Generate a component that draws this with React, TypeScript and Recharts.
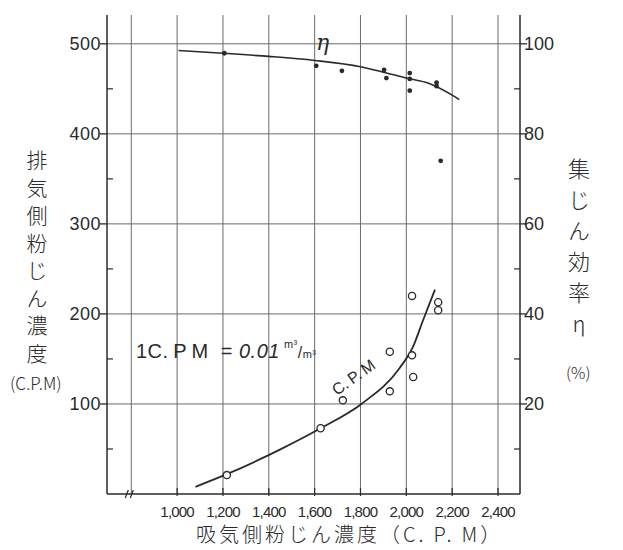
import { ComposedChart, Line, Scatter, XAxis, YAxis, ReferenceLine } from 'recharts';

// 吸気側粉じん濃度 (C.P.M) — x values
const xTicks = [800, 1000, 1200, 1400, 1600, 1800, 2000, 2200, 2400];
const leftTicks = [50, 100, 150, 200, 250, 300, 350, 400, 450, 500];
const rightTicks = [10, 20, 30, 40, 50, 60, 70, 80, 90, 100];
const hGrid = [100, 200, 300, 400, 500];

// 集じん効率 η (%) measured points
const etaX = [1206, 1607, 1719, 1903, 1913, 2015, 2015, 2015, 2132, 2132, 2150];
const etaY = [97.9, 95.1, 94.0, 94.2, 92.4, 93.5, 92.2, 89.6, 91.4, 90.6, 74.0];

// η fitted curve
const etaCurveX = [1006, 1200, 1400, 1600, 1800, 1900, 2000, 2100, 2200, 2231];
const etaCurveY = [98.5, 97.9, 97.2, 96.3, 94.9, 93.7, 92.4, 91.2, 88.6, 87.6];

// 排気側粉じん濃度 (C.P.M) measured points
const cpmX = [1217, 1626, 1723, 1928, 1928, 2025, 2025, 2030, 2139, 2139];
const cpmY = [21, 73, 104, 158, 114, 220, 154, 130, 213, 204];

// C.P.M fitted curve
const cpmCurveX = [1080, 1217, 1446, 1626, 1804, 1971, 2030, 2073, 2125];
const cpmCurveY = [8, 22, 49, 73, 100, 140, 164, 193, 227];

const zip = (xs: number[], ys: number[]) => xs.map((x, i) => ({ x, y: ys[i] }));

const etaPts = zip(etaX, etaY);
const etaCurve = zip(etaCurveX, etaCurveY);
const cpmPts = zip(cpmX, cpmY);
const cpmCurve = zip(cpmCurveX, cpmCurveY);

const ink = '#2a2a2a';
const numFont = '"Liberation Sans", Arial, sans-serif';
const jpFont = '"Noto Sans CJK JP", sans-serif';

const LeftTick = (props: any) => {
  const { x, y, payload } = props;
  const major = payload.value % 100 === 0;
  return (
    <g>
      {major ? (
        <line x1={x - 7} x2={x} y1={y} y2={y} stroke={ink} strokeWidth={1.3} />
      ) : (
        <line x1={x} x2={x + 6} y1={y} y2={y} stroke={ink} strokeWidth={1.2} />
      )}
      {major && (
        <text x={x - 6} y={y + 6.5} textAnchor="end" fontSize={18} fill={ink} fontFamily={numFont} letterSpacing={0.5}>
          {payload.value}
        </text>
      )}
    </g>
  );
};

const RightTick = (props: any) => {
  const { x, y, payload } = props;
  const major = payload.value % 20 === 0;
  return (
    <g>
      {major ? (
        <line x1={x} x2={x + 7} y1={y} y2={y} stroke={ink} strokeWidth={1.3} />
      ) : (
        <line x1={x - 6} x2={x} y1={y} y2={y} stroke={ink} strokeWidth={1.2} />
      )}
      {major && (
        <text x={x + 4} y={y + 6.5} textAnchor="start" fontSize={18} fill={ink} fontFamily={numFont}>
          {payload.value}
        </text>
      )}
    </g>
  );
};

const BottomTick = (props: any) => {
  const { x, y, payload } = props;
  const v = payload.value;
  if (v === 800) {
    return (
      <g stroke={ink} strokeWidth={1.2}>
        <line x1={x - 6} y1={y + 4} x2={x - 3} y2={y - 4} />
        <line x1={x - 1} y1={y + 4} x2={x + 2} y2={y - 4} />
      </g>
    );
  }
  const label = v.toLocaleString('en-US');
  return (
    <g>
      <line x1={x} x2={x} y1={y - 6} y2={y + 2} stroke={ink} strokeWidth={1.2} />
      <text x={x} y={y + 23} textAnchor="middle" fontSize={15} fill={ink} fontFamily={numFont} letterSpacing={-0.8}>
        {label}
      </text>
    </g>
  );
};

const Dot = (p: any) => <circle cx={p.cx} cy={p.cy} r={2.4} fill={ink} />;
const Ring = (p: any) => <circle cx={p.cx} cy={p.cy} r={3.6} fill="#fff" stroke={ink} strokeWidth={1.3} />;

const abs = (left: number, top: number, extra: any = {}) => ({
  position: 'absolute' as const,
  left,
  top,
  color: ink,
  whiteSpace: 'nowrap' as const,
  lineHeight: 1,
  ...extra,
});

export default function App() {
  return (
    <div style={{ position: 'absolute', left: 0, top: 0, width: 623, height: 550, background: '#fff' }}>
      <ComposedChart width={623} height={550} margin={{ top: 15, right: 53, bottom: 26, left: 57 }}>
        <XAxis
          type="number"
          dataKey="x"
          domain={[694, 2496]}
          ticks={xTicks}
          interval={0}
          allowDataOverflow
          tickSize={0}
          tickMargin={0}
          tickLine={false}
          height={30}
          axisLine={{ stroke: ink, strokeWidth: 1.5 }}
          tick={<BottomTick />}
        />
        <YAxis
          yAxisId="left"
          type="number"
          dataKey="y"
          domain={[0, 532]}
          ticks={leftTicks}
          interval={0}
          allowDataOverflow
          width={50}
          tickSize={0}
          tickMargin={0}
          tickLine={false}
          axisLine={{ stroke: ink, strokeWidth: 1.5 }}
          tick={<LeftTick />}
        />
        <YAxis
          yAxisId="right"
          orientation="right"
          type="number"
          dataKey="y"
          domain={[0, 106.4]}
          ticks={rightTicks}
          interval={0}
          allowDataOverflow
          width={50}
          tickSize={0}
          tickMargin={0}
          tickLine={false}
          axisLine={{ stroke: ink, strokeWidth: 1.5 }}
          tick={<RightTick />}
        />
        {hGrid.map((v) => (
          <ReferenceLine key={'h' + v} yAxisId="left" y={v} stroke="#6a6a6a" strokeWidth={1} />
        ))}
        {xTicks.map((v) => (
          <ReferenceLine key={'v' + v} yAxisId="left" x={v} stroke="#6a6a6a" strokeWidth={1} />
        ))}
        <Line
          yAxisId="right"
          data={etaCurve}
          dataKey="y"
          type="monotone"
          stroke={ink}
          strokeWidth={1.6}
          dot={false}
          activeDot={false}
          isAnimationActive={false}
        />
        <Line
          yAxisId="left"
          data={cpmCurve}
          dataKey="y"
          type="monotone"
          stroke={ink}
          strokeWidth={1.8}
          dot={false}
          activeDot={false}
          isAnimationActive={false}
        />
        <Scatter yAxisId="right" data={etaPts} dataKey="y" shape={<Dot />} isAnimationActive={false} />
        <Scatter yAxisId="left" data={cpmPts} dataKey="y" shape={<Ring />} isAnimationActive={false} />
      </ComposedChart>

      {/* annotations */}
      <div style={abs(316, 32, { fontSize: 22, fontFamily: '"DejaVu Serif", serif', fontStyle: 'italic' })}>η</div>
      <div style={abs(136, 341, { fontSize: 20, fontFamily: numFont, letterSpacing: 0.5 })}>
        1C.&thinsp;P&thinsp;M&nbsp; = <span style={{ fontStyle: 'italic' }}>0.01</span>
        <span style={{ fontSize: 11, position: 'relative', top: -10, marginLeft: 4 }}>m³</span>
        <span style={{ fontSize: 16 }}>/</span>
        <span style={{ fontSize: 11 }}>m³</span>
      </div>
      <div style={abs(334, 384, { fontSize: 16, fontFamily: numFont, transform: 'rotate(-36deg)', transformOrigin: 'left center' })}>
        C.&thinsp;P.&thinsp;M
      </div>

      {/* left axis title */}
      <div
        style={abs(26, 150, {
          fontSize: 21,
          fontFamily: jpFont,
          fontWeight: 300,
          writingMode: 'vertical-rl',
          letterSpacing: 6.5,
        })}
      >
        排気側粉じん濃度
      </div>
      <div style={abs(10, 374, { fontSize: 17, fontFamily: jpFont, fontWeight: 300 })}>(C.P.M)</div>

      {/* right axis title */}
      <div
        style={abs(568, 158, {
          fontSize: 22,
          fontFamily: jpFont,
          fontWeight: 300,
          writingMode: 'vertical-rl',
          textOrientation: 'upright',
          letterSpacing: 9,
        })}
      >
        集じん効率η
      </div>
      <div style={abs(566, 364, { fontSize: 16, fontFamily: jpFont, fontWeight: 300 })}>(%)</div>

      {/* x axis title */}
      <div style={abs(196, 524, { fontSize: 20, fontFamily: jpFont, fontWeight: 300, letterSpacing: 3 })}>
        吸気側粉じん濃度（C.&thinsp;P.&thinsp;M）
      </div>
    </div>
  );
}
